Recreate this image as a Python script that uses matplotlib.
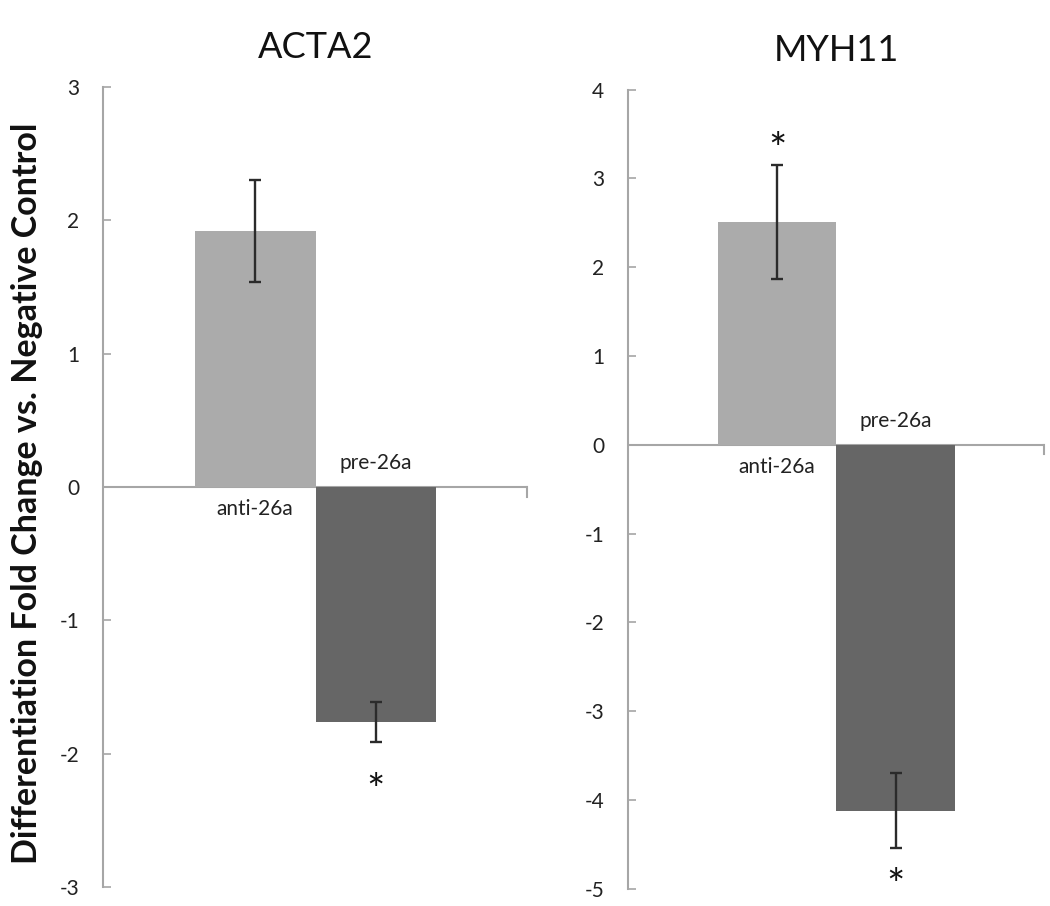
import matplotlib
matplotlib.use('Agg')
import matplotlib.pyplot as plt
from matplotlib import font_manager

# data
groups = ['anti-26a', 'pre-26a']
genes = ['ACTA2', 'MYH11']
values = {'ACTA2': [1.92, -1.76], 'MYH11': [2.51, -4.12]}
errors = {'ACTA2': [0.38, 0.15], 'MYH11': [0.64, 0.42]}
significant = {'ACTA2': [False, True], 'MYH11': [True, True]}
y_limits = {'ACTA2': (-3, 3), 'MYH11': (-5, 4)}

bar_colors = ['#ababab', '#666666']
axis_grey = '#a6a6a6'
star_gap = {'ACTA2': 27, 'MYH11': 19}  # points between error bar end and star centre

names = {f.name for f in font_manager.fontManager.ttflist}
font = 'Liberation Sans Narrow' if 'Liberation Sans Narrow' in names else 'Lato'
plt.rcParams['font.family'] = [font, 'DejaVu Sans']
plt.rcParams['axes.unicode_minus'] = False

fig = plt.figure(figsize=(10.5, 9.06), dpi=100)
boxes = [[0.098, 0.021, 0.405, 0.883], [0.598, 0.019, 0.397, 0.882]]

for gene, box in zip(genes, boxes):
    ax = fig.add_axes(box)
    vals = values[gene]
    errs = errors[gene]
    x = [0, 1]
    ax.bar(x, vals, width=1.0, color=bar_colors, zorder=2)
    ax.errorbar(x, vals, yerr=errs, fmt='none', ecolor='#2b2b2b',
                elinewidth=1.7, capsize=4.5, capthick=1.7, zorder=3)

    # zero line with end tick
    ax.axhline(0, color=axis_grey, linewidth=1.5, zorder=1)
    ax.set_xlim(0.5 - 1.76, 0.5 + 1.76)
    ax.set_ylim(*y_limits[gene])
    lo, hi = y_limits[gene]
    ax.plot([0.5 + 1.75, 0.5 + 1.75], [0, -(hi - lo) * 0.012],
            color=axis_grey, linewidth=1.5, clip_on=False)

    for i, (v, e) in enumerate(zip(vals, errs)):
        # category labels on opposite side of the zero line
        if v >= 0:
            ax.annotate(groups[i], (x[i], 0), xytext=(0, -16),
                        textcoords='offset points', ha='center', va='center',
                        fontsize=15, color='#222222')
        else:
            ax.annotate(groups[i], (x[i], 0), xytext=(0, 17),
                        textcoords='offset points', ha='center', va='center',
                        fontsize=15, color='#222222')
        if significant[gene][i]:
            end = v + e if v >= 0 else v - e
            dy = star_gap[gene] if v >= 0 else -star_gap[gene]
            ax.annotate('*', (x[i], end), xytext=(0, dy - 9),
                        textcoords='offset points', ha='center', va='center',
                        fontsize=31, color='#111111')

    for side in ['top', 'right', 'bottom']:
        ax.spines[side].set_visible(False)
    ax.spines['left'].set_color(axis_grey)
    ax.spines['left'].set_linewidth(1.5)
    ax.set_xticks([])
    ax.set_yticks(range(lo, hi + 1))
    ax.tick_params(axis='y', direction='in', length=6, width=1.2,
                   color=axis_grey, labelsize=15, pad=17, labelcolor='#222222')
    ax.set_title(gene, fontsize=26, pad=21, color='#111111')

fig.text(0.026, 0.455, 'Differentiation Fold Change vs. Negative Control',
         rotation=90, ha='center', va='center', fontsize=24.5,
         fontweight='bold', color='#111111')

fig.savefig('out.png', dpi=100)
